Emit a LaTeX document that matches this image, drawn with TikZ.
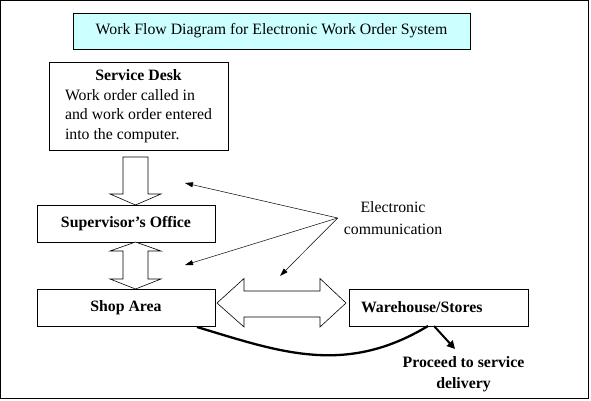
\documentclass[tikz,border=0pt]{standalone}
\usepackage{fontspec}
\setmainfont{Liberation Serif}
\usetikzlibrary{arrows.meta}
\definecolor{titlecyan}{RGB}{204,255,255}

\begin{document}
\fontsize{15.8}{19.5}\selectfont
\begin{tikzpicture}[x=1pt,y=-1pt,
    box/.style={draw, line width=0.8pt, inner sep=0pt, minimum height=37pt, minimum width=178pt},
    bold/.style={font=\bfseries},
    blockarrow/.style={draw, fill=white, line width=0.6pt, line join=miter},
    elink/.style={-{Triangle[length=8pt,width=5pt]}, line width=0.5pt},
    flow/.style={line width=2.3pt}]
      \useasboundingbox (0,0) rectangle (591,400);
      \draw[line width=1pt] (0.8,0.8) rectangle (588.5,398.2);% frame
      \node[box, fill=titlecyan, minimum width=397pt, minimum height=36pt] (title) at (271.5,31)
        {Work Flow Diagram for Electronic Work Order System};
      \node[box, minimum width=179pt, minimum height=88pt] (desk) at (138.5,106)
        {\begin{tabular}{@{}l@{}}\multicolumn{1}{@{}c@{}}{\bfseries Service Desk}\\
         Work order called in\\ and work order entered\\ into the computer.\end{tabular}};
      \node[box, bold] (sup) at (126,223.5) {Supervisor’s Office};
      \node[box, bold] (shop) at (126,307.5) {Shop Area};
      \node[box, bold, text width=155pt, align=left, inner xsep=12pt, minimum width=179pt] (ware)
        at (438.5,307.5) {Warehouse/Stores};
      \node[align=center, inner xsep=6pt] (ecomm) at (393,218) {Electronic\\[2.5pt] communication};
      \node[bold, align=center] (proc) at (463.5,374.5) {Proceed to service\\[1.5pt] delivery};
      % block arrows
      \draw[blockarrow] (123,157) -- (148,157) -- (148,194) -- (161,194) -- (135.5,205)
        -- (110,194) -- (123,194) -- cycle;
      \draw[blockarrow] (135.5,242) -- (161,251) -- (148,251) -- (148,279) -- (161,279)
        -- (135.5,289) -- (110,279) -- (123,279) -- (123,251) -- (110,251) -- cycle;
      \draw[blockarrow] (217,303) -- (244,278.5) -- (244,291) -- (320,291) -- (320,278.5)
        -- (346,303) -- (320,327) -- (320,317) -- (244,317) -- (244,327) -- cycle;
      % electronic communication
      \coordinate (e1) at (185,183);
      \coordinate (e2) at (185,265);
      \coordinate (e3) at (280,276);
      \foreach \t in {e1,e2,e3} \draw[elink] (ecomm.west) -- (\t);
      % delivery
      \coordinate (shopout) at (197,327);
      \coordinate (warein) at (428,326);
      \coordinate (wareout) at (434,326);
      \coordinate (procin) at (455,349);
      \draw[flow] (shopout) .. controls (280,352) and (345,376) .. (warein);
      \draw[flow, line width=2pt, -{Triangle[length=8pt,width=8pt]}] (wareout) -- (procin);
\end{tikzpicture}
\end{document}
